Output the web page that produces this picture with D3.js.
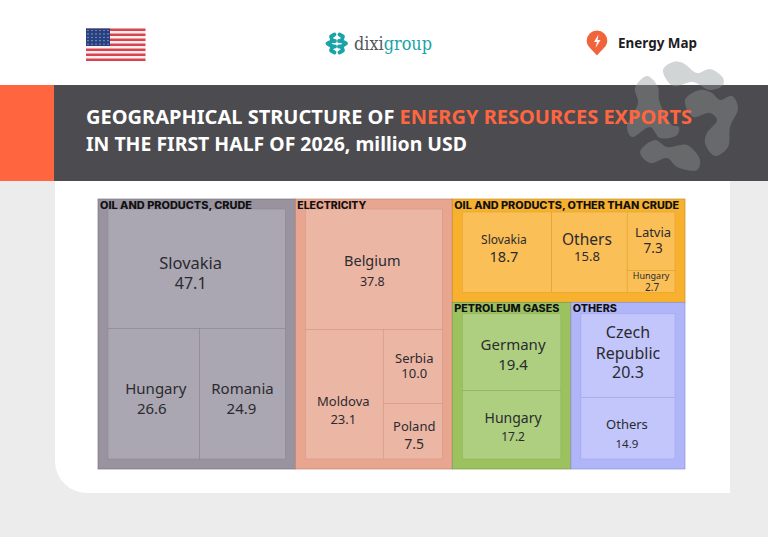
<!DOCTYPE html>
<html><head><meta charset="utf-8">
<script src="https://cdn.jsdelivr.net/npm/d3@7/dist/d3.min.js"></script>
<style>html,body{margin:0;padding:0;background:#ececec}svg{display:block}</style>
</head><body><svg id="c" width="768" height="537"></svg>
<script>
const groupNames=["OIL AND PRODUCTS, CRUDE","ELECTRICITY","OIL AND PRODUCTS, OTHER THAN CRUDE","PETROLEUM GASES","OTHERS"];
const crudeLabels=["Slovakia","Hungary","Romania"];
const crudeValues=[47.1,26.6,24.9];
const electricityLabels=["Belgium","Moldova","Serbia","Poland"];
const electricityValues=[37.8,23.1,10.0,7.5];
const refinedLabels=["Slovakia","Others","Latvia","Hungary"];
const refinedValues=[18.7,15.8,7.3,2.7];
const gasLabels=["Germany","Hungary"];
const gasValues=[19.4,17.2];
const otherLabels=["Czech\nRepublic","Others"];
const otherValues=[20.3,14.9];

// styling tables, kept apart from the data
const groupFill=["#98939f","#e8a690","#f7b12f","#9cc15f","#b0b5fa"];
const cellFill=["#aaa6b2","#ecb6a5","#fbbf57","#aecf80","#c2c6fb"];
const headerWidth=[152,69,225,105,44];
const labelSize=[[16.5,15,15],[14.5,13,13,13],[12,15.5,13,9],[15,14],[16,13]];
const valueSize=[[16,15,15],[12.5,13,13,14],[14.5,13,13.5,10],[15,12],[16,11.5]];
// offsets from the cell centre: name dx, name dy (one per line), value dx, value dy
const labelOffset=[
 [[-6,[-6.6],-6,14.4],[2,[-6],-2,14],[0,[-6],-1,14]],
 [[-1.5,[-9],-1.5,12],[-1,[7],-1,25],[1.5,[-8.5],1.5,6.5],[1.5,[-5],1.5,12]],
 [[-3,[-13],-3,4],[-2.5,[-13],-2.5,4],[2,[-9],2,7],[0,[-6],1,6]],
 [[1.5,[-8],1.5,12],[1.5,[-7],1.5,12]],
 [[0,[-24,-3],0,16],[-1,[-4],-1,15]]
];

const leaf=(g,labels,values,i)=>({name:labels[i],value:values[i],g,i});
const tree={dir:"x",children:[
  {dir:"y",g:0,cat:1,children:[leaf(0,crudeLabels,crudeValues,0),
    {dir:"x",children:[leaf(0,crudeLabels,crudeValues,1),leaf(0,crudeLabels,crudeValues,2)]}]},
  {dir:"y",g:1,cat:1,children:[leaf(1,electricityLabels,electricityValues,0),
    {dir:"x",children:[leaf(1,electricityLabels,electricityValues,1),
      {dir:"y",children:[leaf(1,electricityLabels,electricityValues,2),leaf(1,electricityLabels,electricityValues,3)]}]}]},
  {dir:"y",children:[
    {dir:"x",g:2,cat:1,children:[leaf(2,refinedLabels,refinedValues,0),leaf(2,refinedLabels,refinedValues,1),
      {dir:"y",children:[leaf(2,refinedLabels,refinedValues,2),leaf(2,refinedLabels,refinedValues,3)]}]},
    {dir:"x",children:[
      {dir:"y",g:3,cat:1,children:[leaf(3,gasLabels,gasValues,0),leaf(3,gasLabels,gasValues,1)]},
      {dir:"y",g:4,cat:1,children:[leaf(4,otherLabels,otherValues,0),leaf(4,otherLabels,otherValues,1)]}
    ]}
  ]}
]};
const svg=d3.select("#c");
// page
svg.append("rect").attr("width",768).attr("height",537).attr("fill","#ececec");
svg.append("rect").attr("width",768).attr("height",85).attr("fill","#fff");
svg.append("path").attr("d","M55,181H730V493H87A32,32 0 0 1 55,461Z").attr("fill","#fff");
svg.append("rect").attr("x",54).attr("y",85).attr("width",714).attr("height",96).attr("fill","#4c4c50");
svg.append("rect").attr("y",85).attr("width",54).attr("height",96).attr("fill","#ff6640");

// watermark
const defs=svg.append("defs");
defs.append("clipPath").attr("id","above").append("rect").attr("width",768).attr("height",85);
defs.append("clipPath").attr("id","below").append("rect").attr("y",85).attr("width",768).attr("height",96);
const wm=[
 [[663,70],[673,62],[683,63],[697,73],[710,69],[723,78],[723,85],[710,90],[693,82],[673,86]],
 [[685,100],[700,90],[712,93],[720,100],[732,96],[738,108],[730,127],[728,147],[715,156],[705,143],[707,133],[717,120],[710,113],[693,117]],
 [[635,88],[647,76],[658,87],[659,100],[672,125],[679,127],[677,135],[660,138],[650,127],[632,137],[627,127],[638,103]],
 [[640,152],[655,140],[667,147],[687,145],[700,160],[697,170],[677,167],[667,158],[650,163]]
];
[["above","#d2d5d5"],["below","#68696b"]].forEach(([c,col])=>{
  const g=svg.append("g").attr("clip-path",`url(#${c})`);
  g.selectAll("path").data(wm).join("path").attr("d",d=>d3.line().curve(d3.curveCatmullRomClosed)(d)).attr("fill",col);
});

// title
const title=svg.append("g").attr("font-family","'Noto Sans',Lato,sans-serif").attr("font-weight",700).attr("font-size",19.5);
const t1=title.append("text").attr("x",86).attr("y",124).attr("fill","#fff").attr("textLength",606).attr("lengthAdjust","spacingAndGlyphs");
t1.append("tspan").text("GEOGRAPHICAL STRUCTURE OF ");
t1.append("tspan").attr("fill","#ff6640").text("ENERGY RESOURCES EXPORTS");
title.append("text").attr("x",86).attr("y",151).attr("fill","#fff").attr("textLength",381).attr("lengthAdjust","spacingAndGlyphs").text("IN THE FIRST HALF OF 2026, million USD");

// flag
const flag=svg.append("g");
d3.range(13).forEach(i=>flag.append("rect").attr("x",86).attr("y",28.5+i*2.5).attr("width",59.5).attr("height",2.5).attr("fill",i%2?"#fbeeee":"#d9434e"));
flag.append("rect").attr("x",86).attr("y",28.5).attr("width",24).attr("height",17.5).attr("fill","#27407f");
d3.range(5).forEach(r=>d3.range(6).forEach(c=>flag.append("circle").attr("cx",88+c*4).attr("cy",30.5+r*3.4).attr("r",.6).attr("fill","#c8d0e6")));

// dixi logo
const logo=svg.append("g").attr("fill","none").attr("stroke","#1aa3a8").attr("stroke-width",3.8).attr("stroke-linecap","round").attr("stroke-linejoin","round");
[[[334.5,34.5],[331,36.5],[332.5,41],[327.5,43.5],[332.5,46.5],[331,50.5],[334.5,52.5]],
 [[339.5,34.5],[343,36.5],[341.5,41],[346,43.5],[341.5,46.5],[343,50.5],[339.5,52.5]],
 [[332.5,41],[335,41]],[[332.5,46.5],[335,46.5]],[[339,41],[341.5,41]],[[339,46.5],[341.5,46.5]]]
 .forEach(p=>logo.append("path").attr("d",d3.line()(p)));
const lt=svg.append("text").attr("x",354).attr("y",49.5).attr("font-family","'DejaVu Serif',serif").attr("font-size",18).attr("textLength",78).attr("lengthAdjust","spacingAndGlyphs");
lt.append("tspan").attr("fill","#54565a").text("dixi");
lt.append("tspan").attr("fill","#1aa3a8").text("group");

// energy map
svg.append("path").attr("d","M597,30.5a10.3,10.3 0 0 1 10.3,10.3c0,5.5 -5,8.5 -10.3,14.7c-5.3,-6.2 -10.3,-9.2 -10.3,-14.7a10.3,10.3 0 0 1 10.3,-10.3Z").attr("fill","#f0643c");
svg.append("path").attr("d","M598.5,34.5L594,42H597L595.5,48L600.5,40H597.5Z").attr("fill","#fff");
svg.append("text").attr("x",618).attr("y",48).attr("font-family","'Noto Sans',sans-serif").attr("font-weight",700).attr("font-size",13.5).attr("textLength",79).attr("lengthAdjust","spacingAndGlyphs").attr("fill","#1d1d1f").text("Energy Map");

// treemap
const root=d3.hierarchy(tree).sum(d=>d.value||0);
const padTop=n=>n.data.cat?(n.data.g===0||n.data.g===1?10:n.data.g===2?13:11.5):0;
const pad=n=>n.data.cat?10:0;
d3.treemap().size([587,270]).round(false)
  .paddingTop(padTop).paddingLeft(pad).paddingRight(pad).paddingBottom(pad)
  .tile((n,a,b,c,d)=>(n.data.dir==="x"?d3.treemapDice:d3.treemapSlice)(n,a,b,c,d))(root);
const chart=svg.append("g").attr("transform","translate(98,199)");
const cats=root.descendants().filter(n=>n.data.cat);
const leaves=root.leaves();
chart.selectAll("rect.cat").data(cats).join("rect").attr("class","cat")
  .attr("x",d=>d.x0).attr("y",d=>d.y0).attr("width",d=>d.x1-d.x0).attr("height",d=>d.y1-d.y0)
  .attr("fill",d=>groupFill[d.data.g]).attr("stroke",d=>d3.color(groupFill[d.data.g]).darker(.6)).attr("stroke-width",.7);
chart.selectAll("rect.leaf").data(leaves).join("rect").attr("class","leaf")
  .attr("x",d=>d.x0).attr("y",d=>d.y0).attr("width",d=>d.x1-d.x0).attr("height",d=>d.y1-d.y0)
  .attr("fill",d=>cellFill[d.data.g]).attr("stroke",d=>d3.color(groupFill[d.data.g]).darker(.3)).attr("stroke-width",.5);
chart.selectAll("text.cat").data(cats).join("text").attr("class","cat")
  .attr("x",d=>d.x0+2).attr("y",d=>d.y0+10)
  .attr("font-family","Inter,'Open Sans',sans-serif").attr("font-weight",800).attr("font-size",9.8).attr("fill","#111")
  .attr("textLength",d=>headerWidth[d.data.g]).attr("lengthAdjust","spacingAndGlyphs")
  .text(d=>groupNames[d.data.g]);
const lab=chart.selectAll("g.l").data(leaves).join("g").attr("class","l")
  .attr("transform",d=>`translate(${(d.x0+d.x1)/2},${(d.y0+d.y1)/2})`)
  .attr("font-family","'Noto Sans',sans-serif").attr("fill","#2b2b2f").attr("text-anchor","middle").attr("dominant-baseline","central");
lab.each(function(d){
  const g=d3.select(this), names=d.data.name.split("\n"), ls=labelSize[d.data.g][d.data.i], vs=valueSize[d.data.g][d.data.i], o=labelOffset[d.data.g][d.data.i];
  names.forEach((n,k)=>g.append("text").attr("x",o[0]).attr("y",o[1][k]).attr("font-size",ls).text(n));
  g.append("text").attr("x",o[2]).attr("y",o[3]).attr("font-size",vs).text(d3.format(".1f")(d.data.value));
});
</script></body></html>
